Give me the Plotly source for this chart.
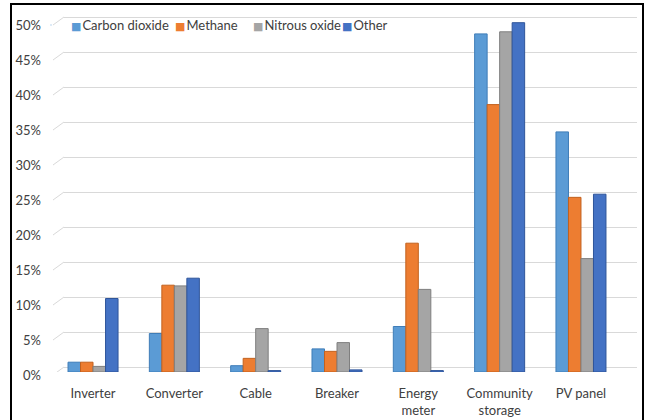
import plotly.graph_objects as go

categories = ["Inverter", "Converter", "Cable", "Breaker", "Energy<br>meter",
              "Community<br>storage", "PV panel"]
carbon_dioxide = [0.014, 0.055, 0.009, 0.033, 0.065, 0.483, 0.343]
methane = [0.014, 0.124, 0.0195, 0.0295, 0.184, 0.382, 0.2495]
nitrous_oxide = [0.008, 0.123, 0.062, 0.042, 0.118, 0.486, 0.162]
other = [0.105, 0.134, 0.002, 0.003, 0.002, 0.499, 0.254]
tick_values = [0, 0.05, 0.10, 0.15, 0.20, 0.25, 0.30, 0.35, 0.40, 0.45, 0.50]
tick_labels = ["0%", "5%", "10%", "15%", "20%", "25%", "30%", "35%", "40%", "45%", "50%"]

series = [
    ("Carbon dioxide", carbon_dioxide, "#5B9BD5", "#3F7DB8"),
    ("Methane", methane, "#ED7D31", "#C2611E"),
    ("Nitrous oxide", nitrous_oxide, "#A5A5A5", "#7F7F7F"),
    ("Other", other, "#4472C4", "#2F559A"),
]
legend_marker_px = [70, 174, 252, 341]  # where each legend entry starts (px)

FONT = "Lato"
W, H = 648, 420
ML, MR, MT, MB = 64, 11, 12, 48
plot_w = W - ML - MR
plot_h = H - MT - MB
px_per_unit = 700.0  # pixels per 100%
yrange_top = plot_h / px_per_unit
back_offset = 5 / px_per_unit


def px_to_paper_x(px):
    return (px - ML) / plot_w


def px_to_paper_y(py):
    return (H - MB - py) / plot_h


fig = go.Figure()
for name, vals, col, edge in series:
    fig.add_trace(go.Bar(
        x=categories, y=vals, name=name, showlegend=False,
        marker=dict(color=col, line=dict(color=edge, width=1)),
    ))

legend_layouts = {}
for i, (name, vals, col, edge) in enumerate(series):
    key = "legend" if i == 0 else f"legend{i + 1}"
    label = (f'<span style="color:{col};font-size:11px;font-family:DejaVu Sans">■</span>'
             f'<span style="font-size:4px"> </span>{name}')
    fig.add_trace(go.Scatter(
        x=[None], y=[None], name=label, mode="markers", legend=key,
        marker=dict(symbol="square", size=1, color=col, opacity=0),
        hoverinfo="skip",
    ))
    legend_layouts[key] = dict(
        orientation="h", x=px_to_paper_x(legend_marker_px[i] - 39), xanchor="left",
        y=px_to_paper_y(25), yanchor="middle",
        bgcolor="rgba(0,0,0,0)", borderwidth=0,
        font=dict(family=FONT, size=13, color="#404040"),
        itemwidth=30,
    )

# invisible trace to carry the "back wall" grid axis
fig.add_trace(go.Scatter(x=[categories[0]], y=[None], yaxis="y2",
                         showlegend=False, hoverinfo="skip", mode="markers"))

shapes = []
# short diagonal floor/side-wall lines at the left of each gridline
for t in tick_values:
    shapes.append(dict(type="line", xref="paper", yref="y2",
                       x0=px_to_paper_x(53), x1=px_to_paper_x(64),
                       y0=t - 8 / px_per_unit, y1=t,
                       line=dict(color="#D9D9D9", width=1)))
# chart border
shapes.append(dict(type="rect", xref="paper", yref="paper",
                   x0=px_to_paper_x(11), x1=px_to_paper_x(643),
                   y0=px_to_paper_y(4), y1=px_to_paper_y(430),
                   line=dict(color="#000000", width=2), layer="above"))

fig.update_layout(
    width=W, height=H,
    margin=dict(l=ML, r=MR, t=MT, b=MB, pad=0, autoexpand=False),
    paper_bgcolor="white", plot_bgcolor="white",
    barmode="group", bargap=0.385, bargroupgap=0.0,
    font=dict(family=FONT, size=13, color="#404040"),
    xaxis=dict(
        type="category", range=[-0.357, 6.689], automargin=False,
        showgrid=False, zeroline=False, showline=False,
        tickfont=dict(family=FONT, size=13, color="#404040"),
        ticks="", ticklabelstandoff=12,
    ),
    yaxis=dict(
        range=[0, yrange_top], showgrid=False, zeroline=False, automargin=False,
        showticklabels=False, showline=False,
    ),
    yaxis2=dict(
        overlaying="y", side="left", automargin=False,
        range=[-back_offset, yrange_top - back_offset],
        tickvals=tick_values, ticktext=tick_labels,
        showgrid=True, gridcolor="#D9D9D9", gridwidth=1,
        zeroline=False, showline=False,
        tickfont=dict(family=FONT, size=13, color="#404040"),
        ticklabelshift=8, ticklabelstandoff=22,
    ),
    shapes=shapes,
    showlegend=True,
    **legend_layouts,
)

fig.write_html("out.html")
